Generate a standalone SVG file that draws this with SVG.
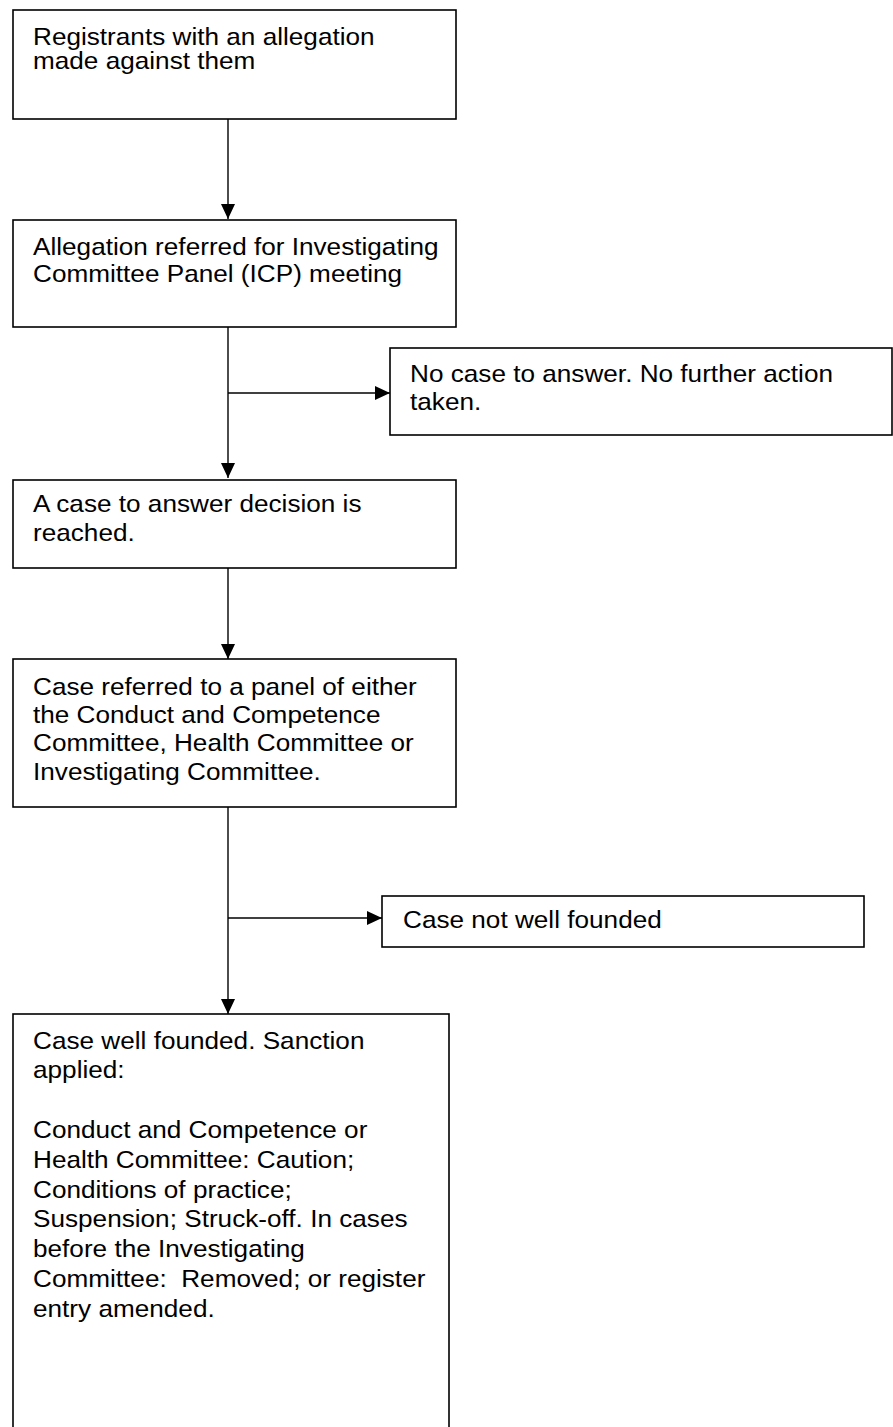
<svg xmlns="http://www.w3.org/2000/svg" width="893" height="1427" viewBox="0 0 893 1427">
<style>
.box{fill:#fff;stroke:#000;stroke-width:1.6}
.t text{font-family:"Liberation Sans",Arial,sans-serif;font-size:24px;fill:#000}
.c{stroke:#000;stroke-width:1.4;fill:none}
</style>
<defs>
<marker id="arr" viewBox="0 0 15 14" refX="15" refY="7" markerWidth="15" markerHeight="14" orient="auto" markerUnits="userSpaceOnUse">
<path d="M0,0 L15,7 L0,14 z" fill="#000"/>
</marker>
</defs>
<rect width="893" height="1427" fill="#fff"/>
<g id="connectors">
<line class="c" x1="228" y1="119" x2="228" y2="219" marker-end="url(#arr)"/>
<line class="c" x1="228" y1="327" x2="228" y2="478" marker-end="url(#arr)"/>
<line class="c" x1="228" y1="393" x2="390" y2="393" marker-end="url(#arr)"/>
<line class="c" x1="228" y1="568" x2="228" y2="659" marker-end="url(#arr)"/>
<line class="c" x1="228" y1="807" x2="228" y2="1014" marker-end="url(#arr)"/>
<line class="c" x1="228" y1="918" x2="382" y2="918" marker-end="url(#arr)"/>
</g>
<g id="n1">
<rect class="box" x="13" y="10" width="443" height="109"/>
<g class="t" transform="translate(33 0) scale(1.09 1)">
<text x="0" y="45">Registrants with an allegation</text>
<text x="0" y="69">made against them</text>
</g>
</g>
<g id="n2">
<rect class="box" x="13" y="220" width="443" height="107"/>
<g class="t" transform="translate(33 0) scale(1.09 1)">
<text x="0" y="255">Allegation referred for Investigating</text>
<text x="0" y="282">Committee Panel (ICP) meeting</text>
</g>
</g>
<g id="n3">
<rect class="box" x="390" y="348" width="502" height="87"/>
<g class="t" transform="translate(410 0) scale(1.09 1)">
<text x="0" y="382">No case to answer. No further action</text>
<text x="0" y="410">taken.</text>
</g>
</g>
<g id="n4">
<rect class="box" x="13" y="480" width="443" height="88"/>
<g class="t" transform="translate(33 0) scale(1.09 1)">
<text x="0" y="512">A case to answer decision is</text>
<text x="0" y="541">reached.</text>
</g>
</g>
<g id="n5">
<rect class="box" x="13" y="659" width="443" height="148"/>
<g class="t" transform="translate(33 0) scale(1.09 1)">
<text x="0" y="695">Case referred to a panel of either</text>
<text x="0" y="723">the Conduct and Competence</text>
<text x="0" y="751">Committee, Health Committee or</text>
<text x="0" y="780">Investigating Committee.</text>
</g>
</g>
<g id="n6">
<rect class="box" x="382" y="896" width="482" height="51"/>
<g class="t" transform="translate(403 0) scale(1.09 1)">
<text x="0" y="928">Case not well founded</text>
</g>
</g>
<g id="n7">
<rect class="box" x="13" y="1014" width="436" height="430"/>
<g class="t" transform="translate(33 0) scale(1.09 1)">
<text x="0" y="1049">Case well founded. Sanction</text>
<text x="0" y="1078">applied:</text>
<text x="0" y="1138">Conduct and Competence or</text>
<text x="0" y="1168">Health Committee: Caution;</text>
<text x="0" y="1198">Conditions of practice;</text>
<text x="0" y="1227">Suspension; Struck-off. In cases</text>
<text x="0" y="1257">before the Investigating</text>
<text x="0" y="1287" xml:space="preserve">Committee:  Removed; or register</text>
<text x="0" y="1317">entry amended.</text>
</g>
</g>
</svg>
